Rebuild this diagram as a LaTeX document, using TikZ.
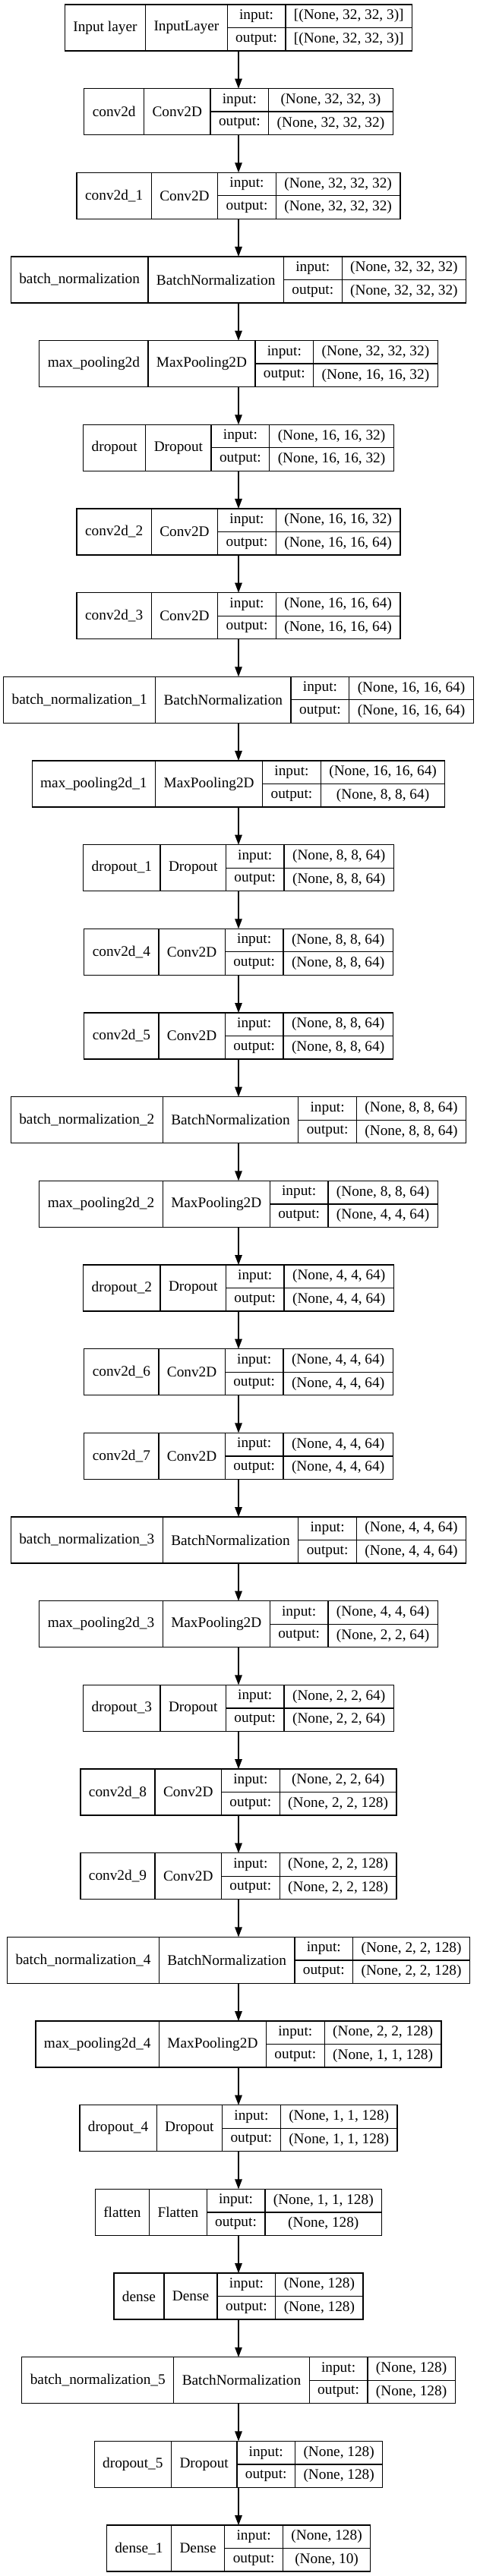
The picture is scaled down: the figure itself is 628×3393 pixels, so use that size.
\documentclass[tikz,border=0pt]{standalone}
\usepackage{fontspec}
\setmainfont{Liberation Serif}
\usetikzlibrary{arrows.meta}

\newcommand\kfont{\fontsize{19.3}{23}\selectfont}
\newlength\wname
\newlength\wclass
\newlength\wlabel
\newlength\wshape
\newlength\wother

% text width inside the picture, where pgf has switched the font off
\makeatletter
\newcommand\kwidth[2]{\settowidth#1{\let\selectfont\pgf@selectfontorig\kfont #2}}
\makeatother

\tikzset{
	record/.style = {inner sep = 0pt, outer sep = 0pt, minimum height = 61pt},
	cell/.style = {draw, line width = 1.3pt, inner sep = 0pt, outer sep = 0pt, minimum height = 61pt, font = \kfont, anchor = west},
	half/.style = {draw, line width = 1.3pt, inner sep = 0pt, outer sep = 0pt, minimum height = 30.5pt, font = \kfont},
	flow/.style = {line width = 1.3pt, -{Triangle[length = 13pt, width = 9.5pt]}}
}

\begin{document}
\begin{tikzpicture}[x = 1pt, y = 1pt]
			\def\xMID{314};
			\def\yTOP{3356.5};
			\def\STEP{110.67};

			\useasboundingbox (0,0) rectangle (628,3393);

			% one record per layer: name | class | input:/output: | shapes
			\foreach \nm/\cls/\inp/\outp [count = \i] in {
				Input layer/InputLayer/{[(None, 32, 32, 3)]}/{[(None, 32, 32, 3)]},
				conv2d/Conv2D/{(None, 32, 32, 3)}/{(None, 32, 32, 32)},
				conv2d\_1/Conv2D/{(None, 32, 32, 32)}/{(None, 32, 32, 32)},
				batch\_normalization/BatchNormalization/{(None, 32, 32, 32)}/{(None, 32, 32, 32)},
				max\_pooling2d/MaxPooling2D/{(None, 32, 32, 32)}/{(None, 16, 16, 32)},
				dropout/Dropout/{(None, 16, 16, 32)}/{(None, 16, 16, 32)},
				conv2d\_2/Conv2D/{(None, 16, 16, 32)}/{(None, 16, 16, 64)},
				conv2d\_3/Conv2D/{(None, 16, 16, 64)}/{(None, 16, 16, 64)},
				batch\_normalization\_1/BatchNormalization/{(None, 16, 16, 64)}/{(None, 16, 16, 64)},
				max\_pooling2d\_1/MaxPooling2D/{(None, 16, 16, 64)}/{(None, 8, 8, 64)},
				dropout\_1/Dropout/{(None, 8, 8, 64)}/{(None, 8, 8, 64)},
				conv2d\_4/Conv2D/{(None, 8, 8, 64)}/{(None, 8, 8, 64)},
				conv2d\_5/Conv2D/{(None, 8, 8, 64)}/{(None, 8, 8, 64)},
				batch\_normalization\_2/BatchNormalization/{(None, 8, 8, 64)}/{(None, 8, 8, 64)},
				max\_pooling2d\_2/MaxPooling2D/{(None, 8, 8, 64)}/{(None, 4, 4, 64)},
				dropout\_2/Dropout/{(None, 4, 4, 64)}/{(None, 4, 4, 64)},
				conv2d\_6/Conv2D/{(None, 4, 4, 64)}/{(None, 4, 4, 64)},
				conv2d\_7/Conv2D/{(None, 4, 4, 64)}/{(None, 4, 4, 64)},
				batch\_normalization\_3/BatchNormalization/{(None, 4, 4, 64)}/{(None, 4, 4, 64)},
				max\_pooling2d\_3/MaxPooling2D/{(None, 4, 4, 64)}/{(None, 2, 2, 64)},
				dropout\_3/Dropout/{(None, 2, 2, 64)}/{(None, 2, 2, 64)},
				conv2d\_8/Conv2D/{(None, 2, 2, 64)}/{(None, 2, 2, 128)},
				conv2d\_9/Conv2D/{(None, 2, 2, 128)}/{(None, 2, 2, 128)},
				batch\_normalization\_4/BatchNormalization/{(None, 2, 2, 128)}/{(None, 2, 2, 128)},
				max\_pooling2d\_4/MaxPooling2D/{(None, 2, 2, 128)}/{(None, 1, 1, 128)},
				dropout\_4/Dropout/{(None, 1, 1, 128)}/{(None, 1, 1, 128)},
				flatten/Flatten/{(None, 1, 1, 128)}/{(None, 128)},
				dense/Dense/{(None, 128)}/{(None, 128)},
				batch\_normalization\_5/BatchNormalization/{(None, 128)}/{(None, 128)},
				dropout\_5/Dropout/{(None, 128)}/{(None, 128)},
				dense\_1/Dense/{(None, 128)}/{(None, 10)}}
			{
				\kwidth\wname{\nm}\addtolength\wname{22pt}
				\kwidth\wclass{\cls}\addtolength\wclass{22pt}
				\kwidth\wlabel{output:}\addtolength\wlabel{22pt}
				\kwidth\wshape{\inp}
				\kwidth\wother{\outp}
				\ifdim\wother>\wshape \setlength\wshape{\wother}\fi
				\addtolength\wshape{22pt}

				\pgfmathsetmacro\tot{\wname + \wclass + \wlabel + \wshape}
				\pgfmathsetmacro\y{\yTOP - (\i - 1) * \STEP}

				\node [record, minimum width = \tot pt] (l\i) at (\xMID,\y) {};
				\node [cell, minimum width = \wname] (l\i-name) at (l\i.west) {\nm};
				\node [cell, minimum width = \wclass] (l\i-class) at (l\i-name.east) {\cls};
				\node [half, minimum width = \wlabel, anchor = south west] (l\i-in) at (l\i-class.east) {input:};
				\node [half, minimum width = \wlabel, anchor = north west] (l\i-out) at (l\i-class.east) {output:};
				\node [half, minimum width = \wshape, anchor = south west] (l\i-inshape) at (l\i-in.south east) {\inp};
				\node [half, minimum width = \wshape, anchor = north west] (l\i-outshape) at (l\i-out.north east) {\outp};
			}

			\foreach \i [count = \j] in {2,...,31}
			{
				\draw [flow] (l\j) -- (l\i);
			}
		\end{tikzpicture}
\end{document}
